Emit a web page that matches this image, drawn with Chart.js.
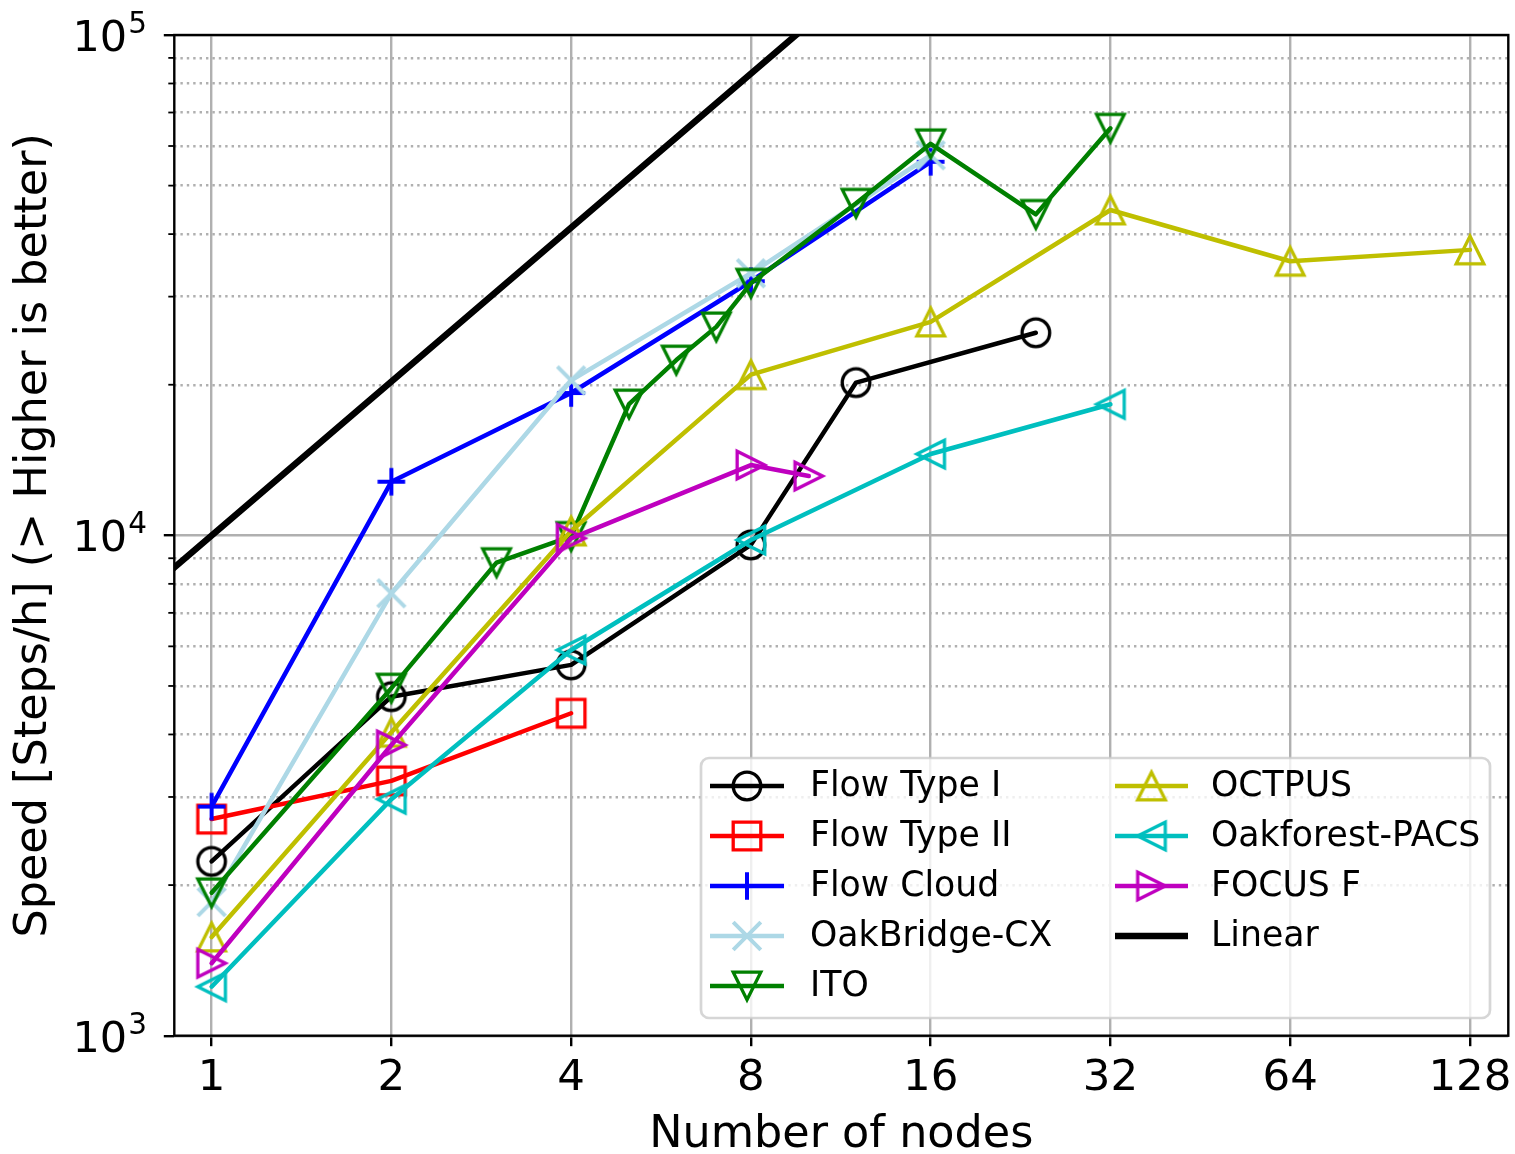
<!DOCTYPE html>
<html>
<head>
<meta charset="utf-8">
<script src="https://cdn.jsdelivr.net/npm/chart.js@4.4.0/dist/chart.umd.min.js"></script>
<style>
  html, body { margin: 0; padding: 0; background: #fff; }
  #wrap { width: 1515px; height: 1154px; }
</style>
</head>
<body>
<div id="wrap"><canvas id="grafico" width="1515" height="1154"></canvas></div>
<script>
// dados (nos x velocidade)
const seriesNames = ['Flow Type I', 'Flow Type II', 'Flow Cloud', 'OakBridge-CX', 'ITO',
                     'OCTPUS', 'Oakforest-PACS', 'FOCUS F', 'Linear'];

const nodesFlowType1 = [1, 2, 4, 8, 12, 24];
const speedFlowType1 = [2230, 4760, 5510, 9570, 20200, 25400];

const nodesFlowType2 = [1, 2, 4];
const speedFlowType2 = [2710, 3230, 4410];

const nodesFlowCloud = [1, 2, 4, 8, 16];
const speedFlowCloud = [2870, 12800, 19250, 32200, 55800];

const nodesOakBridge = [1, 2, 4, 8, 16];
const speedOakBridge = [1850, 7660, 20400, 33400, 57500];

const nodesITO = [1, 2, 3, 4, 5, 6, 7, 8, 12, 16, 24, 32];
const speedITO = [1930, 4950, 8820, 9950, 18300, 22400, 26100, 31900, 46100, 60600, 43800, 65100];

const nodesOCTPUS = [1, 2, 4, 8, 16, 32, 64, 128];
const speedOCTPUS = [1575, 4040, 10200, 20950, 26700, 44700, 35300, 37200];

const nodesOakforest = [1, 2, 4, 8, 16, 32];
const speedOakforest = [1253, 2970, 5900, 9790, 14540, 18280];

const nodesFocus = [1, 2, 4, 8, 10];
const speedFocus = [1396, 3810, 9865, 13820, 13140];

const nodesLinear = [0.5, 16];
const speedLinear = [4920, 170000];

const xTickValues = [1, 2, 4, 8, 16, 32, 64, 128];
const yMajorTicks = [1000, 10000, 100000];
const yTickExponents = ['3', '4', '5'];
const yMinorTicks = [2000, 3000, 4000, 5000, 6000, 7000, 8000, 9000,
                     20000, 30000, 40000, 50000, 60000, 70000, 80000, 90000];

// marcadores vazados no estilo matplotlib
function makeMarker(shape, color) {
    const c = document.createElement('canvas');
    c.width = 44; c.height = 44;
    const g = c.getContext('2d');
    const m = 22, h = 13.8;
    g.strokeStyle = color;
    g.lineWidth = (shape === 'plus' || shape === 'x') ? 4 : 3.3;
    g.lineJoin = 'miter';
    g.beginPath();
    if (shape === 'circle') {
        g.arc(m, m, h, 0, Math.PI * 2);
    } else if (shape === 'square') {
        g.rect(m - h, m - h, 2 * h, 2 * h);
    } else if (shape === 'plus') {
        g.moveTo(m - h, m); g.lineTo(m + h, m);
        g.moveTo(m, m - h); g.lineTo(m, m + h);
    } else if (shape === 'x') {
        g.moveTo(m - h, m - h); g.lineTo(m + h, m + h);
        g.moveTo(m - h, m + h); g.lineTo(m + h, m - h);
    } else if (shape === 'up') {
        g.moveTo(m, m - h); g.lineTo(m - h, m + h); g.lineTo(m + h, m + h); g.closePath();
    } else if (shape === 'down') {
        g.moveTo(m, m + h); g.lineTo(m - h, m - h); g.lineTo(m + h, m - h); g.closePath();
    } else if (shape === 'right') {
        g.moveTo(m + h, m); g.lineTo(m - h, m - h); g.lineTo(m - h, m + h); g.closePath();
    } else if (shape === 'left') {
        g.moveTo(m - h, m); g.lineTo(m + h, m - h); g.lineTo(m + h, m + h); g.closePath();
    }
    g.stroke();
    return c;
}

const seriesX = [nodesFlowType1, nodesFlowType2, nodesFlowCloud, nodesOakBridge, nodesITO,
                 nodesOCTPUS, nodesOakforest, nodesFocus, nodesLinear];
const seriesY = [speedFlowType1, speedFlowType2, speedFlowCloud, speedOakBridge, speedITO,
                 speedOCTPUS, speedOakforest, speedFocus, speedLinear];
const seriesColors = ['#000000', '#ff0000', '#0000ff', '#add8e6', '#008000',
                      '#bfbf00', '#00bfbf', '#bf00bf', '#000000'];
const seriesShapes = ['circle', 'square', 'plus', 'x', 'down', 'up', 'left', 'right', null];

const markers = seriesShapes.map((s, i) => s ? makeMarker(s, seriesColors[i]) : null);

const datasets = seriesNames.map((name, i) => ({
    label: name,
    data: seriesX[i].map((x, j) => ({x: x, y: seriesY[i][j]})),
    borderColor: seriesColors[i],
    backgroundColor: 'transparent',
    borderWidth: name === 'Linear' ? 6.5 : 4.5,
    borderJoinStyle: 'round',
    borderCapStyle: 'round',
    pointStyle: markers[i] || 'circle',
    pointRadius: markers[i] ? 10 : 0,
    tension: 0,
    clip: 0,
    order: seriesNames.length - i
}));

const isDecade = v => Math.abs(Math.log10(v) - Math.round(Math.log10(v))) < 1e-9;

const frameAndLegend = {
    id: 'frameAndLegend',
    afterDatasetsDraw(chart) {
        const {ctx, chartArea: a, scales: {y}} = chart;
        ctx.save();
        // ticks menores do eixo y
        ctx.strokeStyle = '#000';
        ctx.lineWidth = 1.8;
        yMinorTicks.forEach(v => {
            const py = y.getPixelForValue(v);
            ctx.beginPath();
            ctx.moveTo(a.left - 6, py);
            ctx.lineTo(a.left, py);
            ctx.stroke();
        });
        // rotulos 10^n do eixo y
        ctx.fillStyle = '#000';
        ctx.textBaseline = 'alphabetic';
        yMajorTicks.forEach((v, k) => {
            const py = y.getPixelForValue(v);
            ctx.font = '29.5px "DejaVu Sans"';
            ctx.textAlign = 'right';
            ctx.fillText(yTickExponents[k], 147, py - 2);
            const supW = ctx.measureText(yTickExponents[k]).width;
            ctx.font = '43px "DejaVu Sans"';
            ctx.fillText('10', 147 - supW - 1, py + 16);
        });
        // moldura
        ctx.lineWidth = 2.4;
        ctx.strokeRect(a.left, a.top, a.right - a.left, a.bottom - a.top);

        // legenda
        const bx = 701, by = 758, bw = 789, bh = 260, r = 8;
        ctx.beginPath();
        ctx.roundRect(bx, by, bw, bh, r);
        ctx.fillStyle = 'rgba(255,255,255,0.8)';
        ctx.fill();
        ctx.strokeStyle = 'rgba(204,204,204,0.8)';
        ctx.lineWidth = 2.7;
        ctx.stroke();

        ctx.font = '34.7px "DejaVu Sans"';
        ctx.textBaseline = 'middle';
        ctx.textAlign = 'left';
        const colX = [[710, 784, 810], [1115, 1188, 1211]];
        chart.data.datasets.forEach((ds, i) => {
            const col = i < 5 ? 0 : 1;
            const row = i < 5 ? i : i - 5;
            const cy = 786 + row * 50;
            const [x0, x1, tx] = colX[col];
            ctx.strokeStyle = ds.borderColor;
            ctx.lineWidth = ds.borderWidth;
            ctx.lineCap = 'butt';
            ctx.beginPath();
            ctx.moveTo(x0, cy);
            ctx.lineTo(x1, cy);
            ctx.stroke();
            if (markers[i]) {
                ctx.drawImage(markers[i], (x0 + x1) / 2 - 22, cy - 22);
            }
            ctx.fillStyle = '#000';
            ctx.fillText(ds.label, tx, cy + 1);
        });
        ctx.restore();
    }
};

Chart.defaults.font.family = "'DejaVu Sans', sans-serif";
Chart.defaults.color = '#000';

const ctxGrafico = document.getElementById('grafico').getContext('2d');
const grafico = new Chart(ctxGrafico, {
    type: 'line',
    data: { datasets: datasets },
    options: {
        responsive: false,
        animation: false,
        devicePixelRatio: 1,
        layout: {
            autoPadding: false,
            padding: { top: 35, right: 6.7, left: 0, bottom: 0 }
        },
        plugins: {
            legend: { display: false },
            tooltip: { enabled: false }
        },
        scales: {
            x: {
                type: 'logarithmic',
                position: 'bottom',
                min: 0.866,
                max: 148.4,
                bounds: 'data',
                afterBuildTicks: scale => { scale.ticks = xTickValues.map(v => ({value: v})); },
                afterFit: scale => {
                    scale.height = 118.3;
                    scale.paddingLeft = 0;
                    scale.paddingRight = 0;
                },
                ticks: {
                    autoSkip: false,
                    maxRotation: 0,
                    padding: 6.7,
                    font: { size: 43.5 },
                    callback: value => String(value)
                },
                grid: {
                    color: '#b0b0b0',
                    lineWidth: 2.4,
                    drawTicks: true,
                    tickLength: 10.5,
                    tickColor: '#000',
                    tickWidth: 2.4
                },
                border: { display: false },
                title: {
                    display: true,
                    text: 'Number of nodes',
                    font: { size: 44.5, lineHeight: 1 },
                    padding: { top: 0, bottom: -3.2 }
                }
            },
            y: {
                type: 'logarithmic',
                position: 'left',
                min: 1000,
                max: 100000,
                bounds: 'data',
                afterBuildTicks: scale => {
                    scale.ticks = yMajorTicks.concat(yMinorTicks).sort((a, b) => a - b).map(v => ({value: v}));
                },
                afterFit: scale => {
                    scale.width = 174.3;
                    scale.paddingTop = 0;
                    scale.paddingBottom = 0;
                },
                ticks: {
                    autoSkip: false,
                    padding: 10.5,
                    font: { size: 43 },
                    callback: () => ''
                },
                grid: {
                    color: '#b0b0b0',
                    lineWidth: 2.4,
                    drawTicks: true,
                    tickLength: 10.5,
                    tickColor: c => (c.tick && isDecade(c.tick.value)) ? '#000' : 'rgba(0,0,0,0)',
                    tickWidth: 2.4
                },
                border: {
                    display: false,
                    dash: c => (c.tick && isDecade(c.tick.value)) ? [] : [2.4, 4]
                },
                title: {
                    display: true,
                    text: 'Speed [Steps/h] (> Higher is better)',
                    font: { size: 44.5, lineHeight: 1 },
                    padding: { top: 12, bottom: 0 }
                }
            }
        }
    },
    plugins: [frameAndLegend]
});
</script>
</body>
</html>
